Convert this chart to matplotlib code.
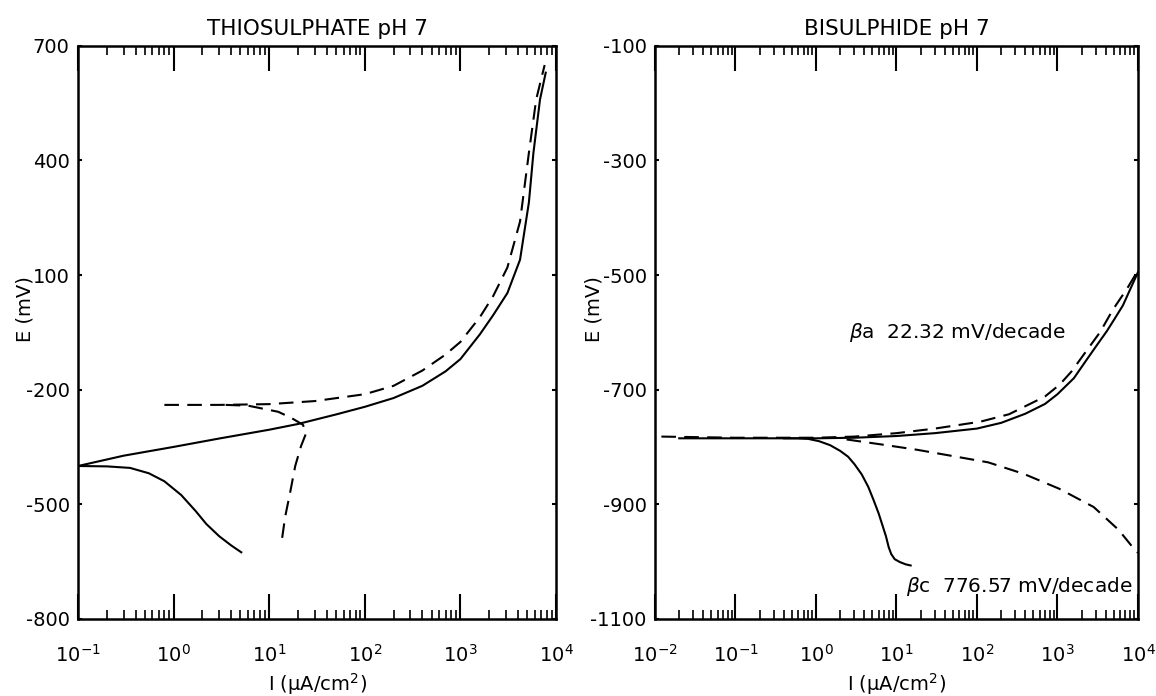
"""
Polarisation curves, thiosulphate and bisulphide, pH 7.
Two log-x panels saved to out.png.
"""

import matplotlib
matplotlib.use("Agg")
import matplotlib.pyplot as plt
from matplotlib.ticker import FixedLocator, LogLocator, LogFormatterMathtext, NullFormatter

plt.rcParams['font.family'] = ['DejaVu Sans']
plt.rcParams['axes.unicode_minus'] = False
plt.rcParams['mathtext.fontset'] = 'dejavusans'

# =========================
# THIOSULPHATE pH 7  (I in uA/cm2, E in mV)
# =========================
thio_solid_an_i = [0.1, 0.3, 1, 3, 10, 20, 50, 100, 200, 400, 700, 1000, 1600, 2200, 3100,
                   4200, 5200, 5800, 6800, 7800]
thio_solid_an_e = [-400, -373, -350, -328, -305, -290, -265, -245, -222, -190, -152, -120, -55, -5, 53,
                   140, 290, 420, 560, 630]

thio_solid_cat_i = [0.1, 0.2, 0.35, 0.55, 0.8, 1.2, 1.7, 2.2, 3.0, 4.0, 5.1]
thio_solid_cat_e = [-400, -401, -405, -419, -440, -476, -518, -552, -584, -608, -626]

thio_dash_an_i = [0.8, 3, 10, 30, 100, 200, 400, 700, 1000, 1600, 2200, 3100, 4200, 5200, 6200, 7600]
thio_dash_an_e = [-240, -240, -238, -230, -212, -190, -150, -108, -75, -10, 45, 120, 240, 420, 560, 650]

thio_dash_cat_i = [3.5, 6, 12.4, 17, 22.5, 24.4, 21.5, 18.7, 16.5, 14.7, 13.3]
thio_dash_cat_e = [-240, -242, -258, -274, -292, -313, -348, -400, -471, -532, -608]

thio_yticks = [700, 400, 100, -200, -500, -800]

# =========================
# BISULPHIDE pH 7
# =========================
bis_solid_an_i = [0.02, 0.1, 1, 3, 10, 30, 100, 200, 400, 700, 1000, 1600, 2300, 3100,
                  4100, 5200, 6500, 8000, 10000]
bis_solid_an_e = [-785, -785, -785, -784, -781, -776, -768, -758, -742, -725, -708, -680, -648, -622,
                  -598, -575, -553, -525, -495]

bis_solid_cat_i = [0.4, 0.59, 0.8, 1.09, 1.5, 2.0, 2.5, 3.0, 3.7, 4.47, 5.2, 6.0, 6.7, 7.4, 8.0,
                   8.6, 9.5, 11, 13, 15]
bis_solid_cat_e = [-785, -785, -786, -790, -797, -807, -817, -830, -848, -870, -893, -916, -937, -956, -975,
                   -987, -996, -1001, -1005, -1007]

bis_dash_an_i = [0.012, 0.1, 1, 3, 10, 30, 110, 250, 373, 700, 1070, 1500, 2090, 3370, 4900, 7300, 10000]
bis_dash_an_e = [-782, -784, -784, -782, -776, -768, -756, -743, -731, -712, -691, -668, -640, -600, -560,
                 -524, -492]

bis_dash_cat_i = [2.4, 6.7, 18, 50, 138, 380, 1050, 2820, 5760, 8700, 10000]
bis_dash_cat_e = [-787, -796, -805, -816, -827, -847, -873, -905, -945, -976, -985]

bis_yticks = [-100, -300, -500, -700, -900, -1100]

beta_a_text = r'$\beta$a  22.32 mV/decade'
beta_c_text = r'$\beta$c  776.57 mV/decade'

DASH = (0, (7, 4))
LW = 1.5


def style_axes(ax, xmin, yticks, ylab_x):
    """log x axis with inward ticks on all sides, like the old plotter frame"""
    ax.set_xscale('log')
    ax.set_xlim(xmin, 1e4)
    ax.set_ylim(min(yticks), max(yticks))
    ax.xaxis.set_major_locator(LogLocator(base=10, numticks=12))
    ax.xaxis.set_major_formatter(LogFormatterMathtext())
    ax.xaxis.set_minor_locator(LogLocator(base=10, subs=range(2, 10), numticks=12))
    ax.xaxis.set_minor_formatter(NullFormatter())
    ax.yaxis.set_major_locator(FixedLocator(yticks))
    ax.tick_params(axis='x', which='major', direction='in', top=True, bottom=True,
                   length=18, width=1.5, labelsize=14, pad=18)
    ax.tick_params(axis='x', which='minor', direction='in', top=True, bottom=True,
                   length=6.5, width=1.2)
    ax.tick_params(axis='y', which='major', direction='in', left=True, right=True,
                   length=3, width=1.5, labelsize=14, pad=6)
    for sp in ax.spines.values():
        sp.set_linewidth(1.8)
    ax.set_xlabel('I (µA/cm$^{2}$)', fontsize=14, labelpad=4)
    ax.set_ylabel('E (mV)', fontsize=14)
    ax.yaxis.set_label_coords(ylab_x, 0.54)


def main():
    fig = plt.figure(figsize=(11.56, 6.96), dpi=100)
    ax1 = fig.add_axes([0.0675, 0.111, 0.4135, 0.823])
    ax2 = fig.add_axes([0.5666, 0.111, 0.4178, 0.823])

    # left panel
    ax1.plot(thio_solid_an_i, thio_solid_an_e, color='black', lw=LW)
    ax1.plot(thio_solid_cat_i, thio_solid_cat_e, color='black', lw=LW)
    ax1.plot(thio_dash_an_i, thio_dash_an_e, color='black', lw=LW, linestyle=DASH)
    ax1.plot(thio_dash_cat_i, thio_dash_cat_e, color='black', lw=LW, linestyle=DASH)
    style_axes(ax1, 0.1, thio_yticks, -0.092)
    ax1.set_title('THIOSULPHATE pH 7', fontsize=15.5, pad=8)

    # right panel
    ax2.plot(bis_solid_an_i, bis_solid_an_e, color='black', lw=LW)
    ax2.plot(bis_solid_cat_i, bis_solid_cat_e, color='black', lw=LW)
    ax2.plot(bis_dash_an_i, bis_dash_an_e, color='black', lw=LW, linestyle=DASH)
    ax2.plot(bis_dash_cat_i, bis_dash_cat_e, color='black', lw=LW, linestyle=DASH)
    style_axes(ax2, 0.01, bis_yticks, -0.106)
    ax2.set_title('BISULPHIDE pH 7', fontsize=15.5, pad=8)

    ax2.text(2.6, -601, beta_a_text, fontsize=14.5, va='center')
    ax2.text(8500, -1043, beta_c_text, fontsize=14.5, va='center', ha='right')

    fig.savefig('out.png', dpi=100)
    plt.close(fig)


if __name__ == "__main__":
    main()
